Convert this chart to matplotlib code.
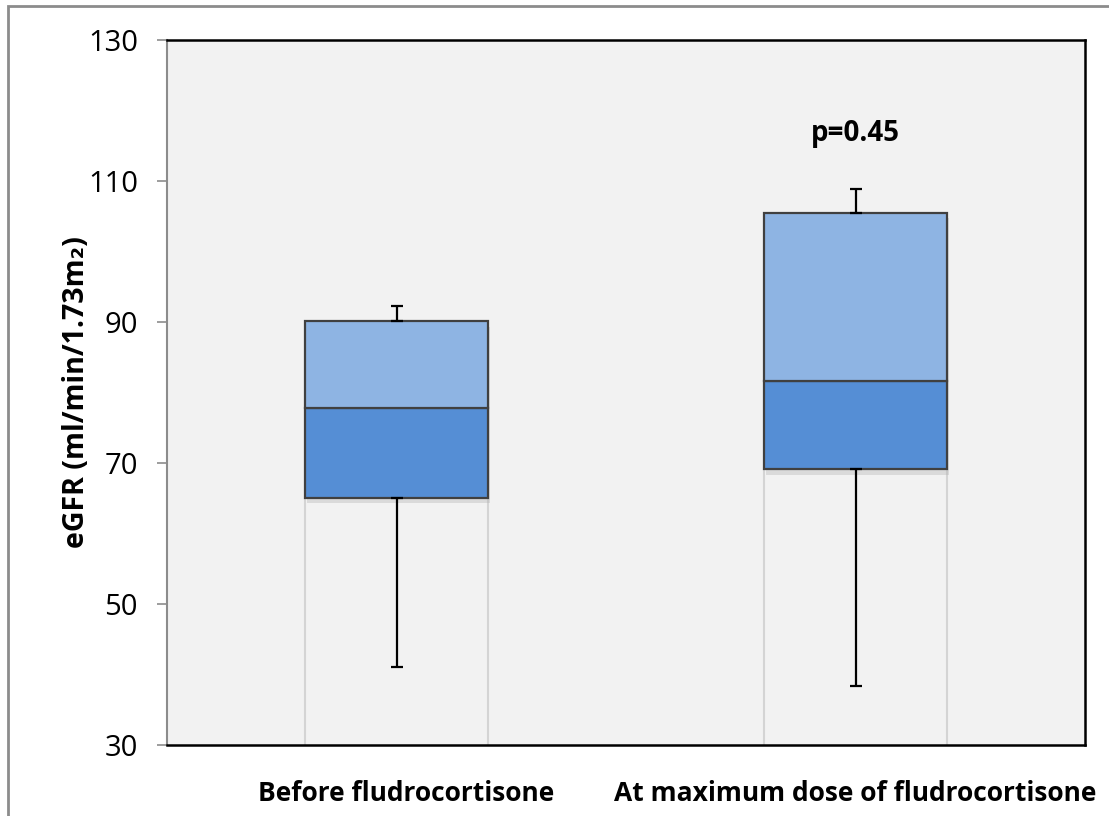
import matplotlib
matplotlib.use("Agg")
import matplotlib.pyplot as plt
import matplotlib.patches as mpatches
import matplotlib.transforms as mtransforms
import numpy as np

categories = ["Before fludrocortisone", "At maximum dose of fludrocortisone"]
q1 = [65.1, 69.1]
median = [77.8, 81.6]
q3 = [90.1, 105.5]
whisker_min = [41.1, 38.4]
whisker_max = [92.3, 108.9]
y_ticks = [30, 50, 70, 90, 110, 130]
p_text = "p=0.45"

plt.rcParams['font.family'] = ['Open Sans', 'DejaVu Sans']

fig = plt.figure(figsize=(11.09, 8.16), dpi=100)
fig.patch.set_facecolor('white')
# outer frame (partially cut like reference)
fig.add_artist(mpatches.Rectangle((8/1109, -0.1), 1.2, (816-6)/816 + 0.1,
                                  transform=fig.transFigure, fill=False,
                                  edgecolor='#8c8c8c', linewidth=2))

ax = fig.add_axes([167/1109, (816-745)/816, (1085-167)/1109, (745-40)/816])
ax.set_facecolor('#F2F2F2')

x = np.arange(len(categories))
w = 0.40
q1a = np.array(q1); meda = np.array(median); q3a = np.array(q3)

# bottom invisible segment
ax.bar(x, q1a, width=w, bottom=0, color='#F2F2F2', edgecolor='#d4d4d4', linewidth=1.5, zorder=2)
# shadows
for xi, b, t in zip(x, q1a, q3a):
    sh = mpatches.Rectangle((xi - w/2 + 0.004, b - 0.8), w, t - b, facecolor='#b0b0b0',
                            alpha=0.35, edgecolor='none', zorder=2.5)
    ax.add_patch(sh)
ax.bar(x, meda - q1a, width=w, bottom=q1a, color='#558ED5', edgecolor='#404040', linewidth=1.6, zorder=3)
ax.bar(x, q3a - meda, width=w, bottom=meda, color='#8EB4E3', edgecolor='#404040', linewidth=1.6, zorder=3)

# whiskers
ax.errorbar(x, q3a, yerr=[np.zeros(2), np.array(whisker_max) - q3a], fmt='none',
            ecolor='black', elinewidth=1.6, capsize=4.3, capthick=1.6, zorder=4)
ax.errorbar(x, q1a, yerr=[q1a - np.array(whisker_min), np.zeros(2)], fmt='none',
            ecolor='black', elinewidth=1.6, capsize=4.3, capthick=1.6, zorder=4)

ax.set_xlim(-0.5, 1.5)
ax.set_ylim(30, 130)
ax.set_yticks(y_ticks)
ax.set_yticklabels([str(v) for v in y_ticks], fontsize=21)
ax.tick_params(axis='y', length=7, width=1.2, color='#8c8c8c', pad=14)
ax.set_xticks(x)
ax.set_xticklabels(categories, fontsize=19, fontweight='bold')
ax.tick_params(axis='x', length=0, pad=25)
off = mtransforms.ScaledTranslation(10/100, 0, fig.dpi_scale_trans)
lbl = ax.get_xticklabels()[0]
lbl.set_transform(lbl.get_transform() + off)

for s in ['top', 'right', 'bottom']:
    ax.spines[s].set_color('black')
    ax.spines[s].set_linewidth(1.8)
ax.spines['left'].set_color('#8c8c8c')
ax.spines['left'].set_linewidth(1.5)

ax.set_ylabel("eGFR (ml/min/1.73m₂)", fontsize=20.5, fontweight='bold', labelpad=-2)

ax.text(x[1], 116.8, p_text, ha='center', va='center', fontsize=20, fontweight='bold', zorder=5)

fig.savefig("out.png", dpi=100)
